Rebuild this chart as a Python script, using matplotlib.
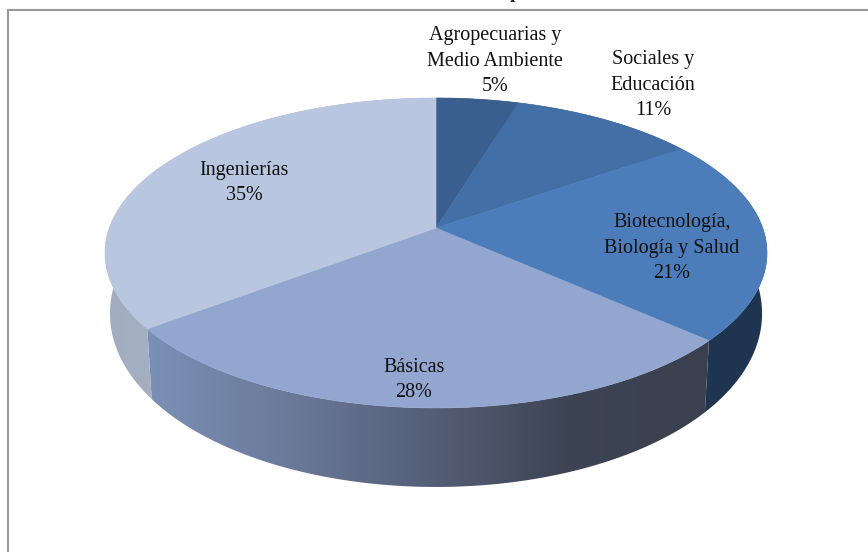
import numpy as np
import matplotlib
matplotlib.use("Agg")
import matplotlib.pyplot as plt
from matplotlib.colors import LinearSegmentedColormap
from matplotlib.patches import Polygon

categories = [
    "Agropecuarias y\nMedio Ambiente",
    "Sociales y\nEducación",
    "Biotecnología,\nBiología y Salud",
    "Básicas",
    "Ingenierías",
]
# slice sizes, the labels show them rounded
percents = [4.7, 10.6, 21.3, 28.1, 35.3]

top_colors = ["#3a5f8e", "#4270a6", "#4c7dba", "#92a6cf", "#b9c6df"]
wall_colors = [
    ["#2a4566", "#2a4566"],
    ["#2a4566", "#2a4566"],
    ["#1f3550", "#1f3550"],
    ["#7b90b6", "#6a7a9a", "#555f78", "#3d4454", "#3a404e"],
    ["#a2adbf", "#b3bdd0"],
]
label_pos = [(495, 61), (653, 85), (672, 248), (414, 380), (244, 183)]

plt.rcParams["font.family"] = ["Liberation Serif", "DejaVu Serif"]

# pie is tilted with a bit of perspective, these are fitted by eye
CX, CY = 436, 228
RX, RY = 326.7, 151
PERSP = 0.161


def project(theta, lower=False):
    u, v = np.sin(theta), np.cos(theta)
    w = 1 + PERSP * v
    x = CX + RX * u / w
    y = CY - RY * v / w
    if lower:
        x = CX + (x - CX) * 0.985
        y = y + 57 - 22 * v
    return x, y


fig = plt.figure(figsize=(8.68, 5.52), dpi=100)
ax = fig.add_axes([0, 0, 1, 1])
ax.set_xlim(0, 868)
ax.set_ylim(552, 0)
ax.axis("off")

# chart frame, the right and bottom sides are cut off in the source
ax.plot([7.5, 7.5, 868], [552, 9.5, 9.5], color="#999999", lw=1.5, solid_joinstyle="miter")
ax.text(515, -2, "p", fontsize=14, fontweight="bold", ha="center", va="baseline",
        color="#222222", clip_on=False)

edges = np.radians(np.cumsum([0] + percents) / sum(percents) * 360)

for i in range(len(percents)):
    theta = np.linspace(edges[i], edges[i + 1], 120)
    x1, y1 = project(theta)
    x2, y2 = project(theta, lower=True)
    pts = np.column_stack([np.r_[x1, x2[::-1]], np.r_[y1, y2[::-1]]])
    poly = Polygon(pts, closed=True, facecolor="none", edgecolor="none")
    ax.add_patch(poly)
    cmap = LinearSegmentedColormap.from_list("wall", wall_colors[i])
    grad = np.linspace(0, 1, 256).reshape(1, -1)
    im = ax.imshow(grad, cmap=cmap, aspect="auto", interpolation="bilinear",
                   extent=[pts[:, 0].min(), pts[:, 0].max(), pts[:, 1].max(), pts[:, 1].min()])
    im.set_clip_path(poly)

ax.set_xlim(0, 868)
ax.set_ylim(552, 0)

for i in range(len(percents)):
    theta = np.linspace(edges[i], edges[i + 1], 120)
    x, y = project(theta)
    pts = np.column_stack([np.r_[CX, x], np.r_[CY, y]])
    ax.add_patch(Polygon(pts, closed=True, facecolor=top_colors[i],
                         edgecolor=top_colors[i], lw=0.4, zorder=3))

for name, pct, (lx, ly) in zip(categories, percents, label_pos):
    ax.text(lx, ly, f"{name}\n{pct:.0f}%", fontsize=14.5, ha="center", va="center",
            color="#111111", linespacing=1.45, zorder=5)

fig.savefig("out.png", dpi=100)
